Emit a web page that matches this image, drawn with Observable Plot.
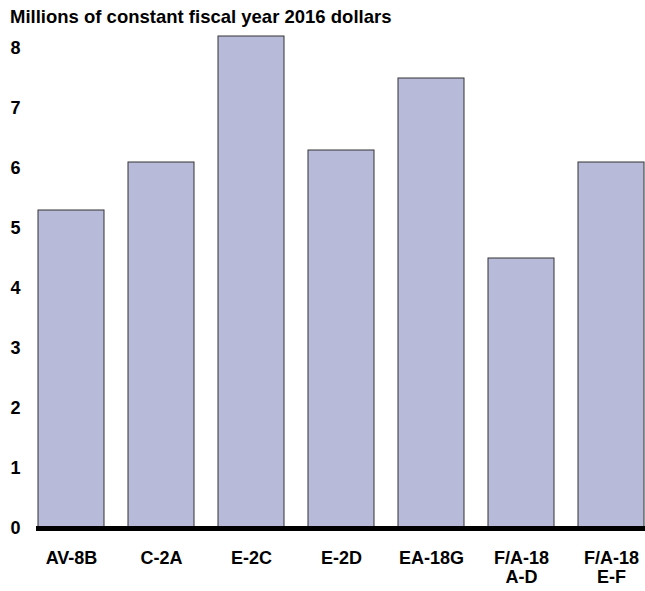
<!DOCTYPE html>
<html>
<head>
<meta charset="utf-8">
<script src="https://cdn.jsdelivr.net/npm/d3@7"></script>
<script src="https://cdn.jsdelivr.net/npm/@observablehq/plot@0.6"></script>
<style>
  body { margin: 0; background: #fff; font-family: "Liberation Sans", Arial, sans-serif; }
  #title { height: 28px; padding-left: 10px; font-size: 18.5px; font-weight: bold; line-height: 34px; color: #000; white-space: nowrap; }
</style>
</head>
<body>
<div id="title">Millions of constant fiscal year 2016 dollars</div>
<div id="chart"></div>
<script>
const categories = ["AV-8B", "C-2A", "E-2C", "E-2D", "EA-18G", "F/A-18\nA-D", "F/A-18\nE-F"];
const values = [5.3, 6.1, 8.2, 6.3, 7.5, 4.5, 6.1];
const yTicks = [0, 1, 2, 3, 4, 5, 6, 7, 8];

const data = categories.map((c, i) => ({category: c, value: values[i]}));

const chart = Plot.plot({
  width: 645,
  height: 563,
  marginTop: 8,
  marginBottom: 63,
  marginLeft: 37,
  marginRight: 1,
  style: {fontFamily: "'Liberation Sans', Arial, sans-serif", fontWeight: "bold", color: "#000", background: "#fff"},
  x: {domain: categories, paddingInner: 0.27, paddingOuter: 0, axis: null},
  y: {domain: [0, 8.2], axis: null},
  marks: [
    Plot.barY(data, {x: "category", y: "value", fill: "#b7bad9", stroke: "#333", strokeWidth: 1}),
    Plot.ruleY([0], {stroke: "#000", strokeWidth: 5, insetLeft: -1, insetRight: -1}),
    Plot.axisY(yTicks, {tickSize: 0, tickPadding: 17, fontSize: 18, fontWeight: "bold", textAnchor: "end", tickFormat: "d", label: null}),
    Plot.axisX({tickSize: 0, tickPadding: 21, fontSize: 18, fontWeight: "bold", lineHeight: 1.1, label: null})
  ]
});
document.getElementById("chart").appendChild(chart);
</script>
</body>
</html>
